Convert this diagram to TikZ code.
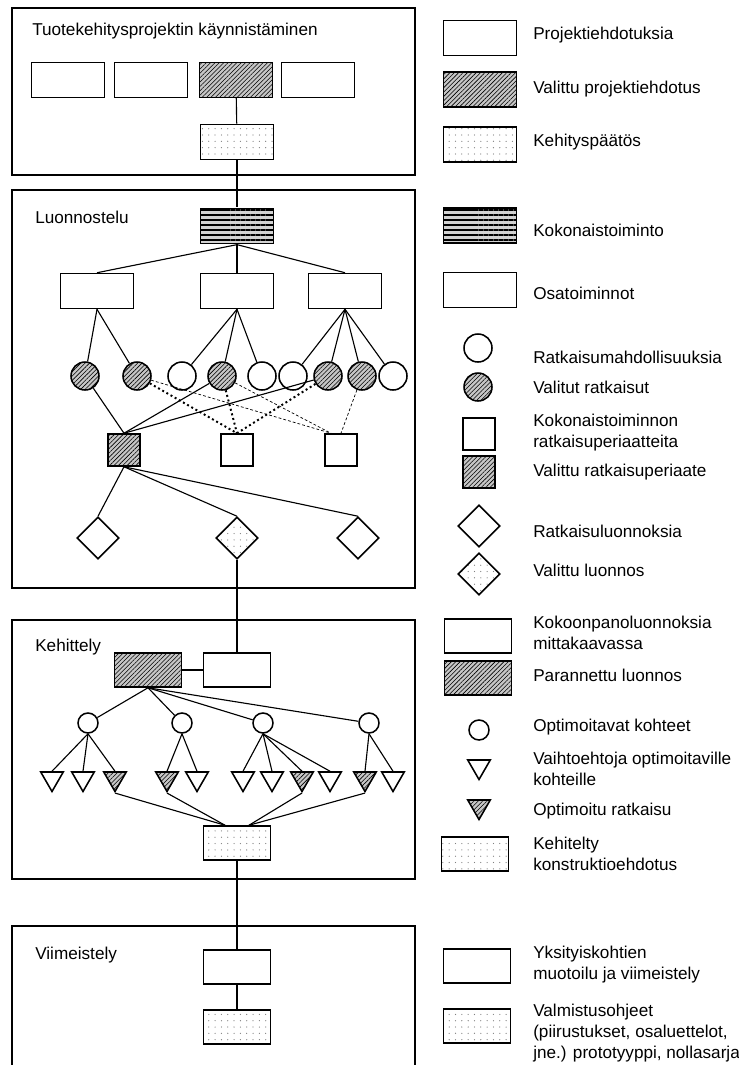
\documentclass[tikz,border=0pt]{standalone}
\usepackage{fontspec}
\setmainfont{Liberation Sans}
\usetikzlibrary{shapes.geometric}
\usetikzlibrary{patterns.meta}

\begin{document}
\begin{tikzpicture}
    [
    x=0.25mm, y=-0.25mm,
    every node/.style={font=\fontsize{12.2pt}{15pt}\selectfont},
    box/.style={rectangle,draw,line width=1.1pt,inner sep=0pt,minimum width=18.25mm,minimum height=8.75mm},
    smallbox/.style={box,minimum width=16.75mm,minimum height=8.5mm},
    sq/.style={box,minimum width=8mm,minimum height=8mm},
    ball/.style={circle,draw,line width=1.1pt,inner sep=0pt,minimum size=7mm},
    smallball/.style={ball,minimum size=5mm},
    gem/.style={diamond,draw,line width=1.1pt,inner sep=0pt,minimum size=10.5mm},
    tri/.style={regular polygon,regular polygon sides=3,shape border rotate=180,draw,line width=1.1pt,inner sep=0pt,minimum size=6.5mm},
    hatchfill/.style={preaction={fill=gray!45},pattern={Lines[angle=45,distance=2.2pt,line width=0.4pt]}},
    stripefill/.style={preaction={fill=gray!35},pattern={Lines[angle=0,distance=3.6pt,line width=1.6pt]}},
    dotfill/.style={pattern={Dots[distance=4.5pt,radius=0.45pt]},pattern color=gray},
    phase/.style={line width=1.1pt},
    title/.style={anchor=west,inner sep=0pt},
    lbl/.style={anchor=west,inner sep=0pt,align=left},
    link/.style={line width=0.8pt},
    pick/.style={line width=1.4pt,dotted},
    alt/.style={line width=0.5pt,dash pattern=on 2pt off 1.5pt},
    ]
    \useasboundingbox (0,0) rectangle (739,1065);

    % phase frames
    \draw [phase] (12,8) rectangle (415,175);
    \draw [phase] (12,190) rectangle (415,588);
    \draw [phase] (12,620) rectangle (415,879);
    \draw [phase] (12,1075) |- (415,926) -- (415,1075);
    \node [title] (h1) at (32,31) {Tuotekehitysprojektin käynnistäminen};
    \node [title] (h2) at (35,217) {Luonnostelu};
    \node [title] (h3) at (35,647) {Kehittely};
    \node [title] (h4) at (35,955) {Viimeistely};

    % project proposals
    \node (p1) at (68,80) [box] {};
    \node (p2) at (151,80) [box] {};
    \node (p3) at (236,80) [box,hatchfill] {};
    \node (p4) at (318,80) [box] {};
    \node (kp) at (237,142) [box,dotfill] {};
    \draw [link] (p3) to (kp);

    % sketching
    \node (kok) at (237,226) [box,stripefill] {};
    \draw [link] (kp) to (kok);
    \node (o1) at (97,291) [box] {};
    \node (o2) at (237,291) [box] {};
    \node (o3) at (345,291) [box] {};
    \draw [link] (kok.south) to (o1.north);
    \draw [link] (kok.south) to (o2.north);
    \draw [link] (kok.south) to (o3.north);

    \node (r1) at (85,376) [ball,hatchfill] {};
    \node (r2) at (137,376) [ball,hatchfill] {};
    \node (r3) at (182,376) [ball] {};
    \node (r4) at (222,376) [ball,hatchfill] {};
    \node (r5) at (262,376) [ball] {};
    \node (r6) at (293,376) [ball] {};
    \node (r7) at (328,376) [ball,hatchfill] {};
    \node (r8) at (362,376) [ball,hatchfill] {};
    \node (r9) at (393,376) [ball] {};
    \draw [link] (o1.south) to (r1);
    \draw [link] (o1.south) to (r2);
    \draw [link] (o2.south) to (r3);
    \draw [link] (o2.south) to (r4);
    \draw [link] (o2.south) to (r5);
    \draw [link] (o3.south) to (r6);
    \draw [link] (o3.south) to (r7);
    \draw [link] (o3.south) to (r8);
    \draw [link] (o3.south) to (r9);

    \node (s1) at (124,450) [sq,hatchfill] {};
    \node (s2) at (237,450) [sq] {};
    \node (s3) at (341,450) [sq] {};
    \draw [link] (r1) to (s1.north);
    \draw [link] (r4) to (s1.north);
    \draw [link] (r7) to (s1.north);
    \draw [pick] (r2) to (s2.north);
    \draw [pick] (r4) to (s2.north);
    \draw [pick] (r7) to (s2.north);
    \draw [alt] (r2) to ([xshift=-2.5mm]s3.north);
    \draw [alt] (r4) to ([xshift=-2.5mm]s3.north);
    \draw [alt] (r8) to (s3.north);

    \node (d1) at (98,538) [gem] {};
    \node (d2) at (237,538) [gem,dotfill] {};
    \node (d3) at (358,538) [gem] {};
    \draw [link] (s1.south) to (d1.north);
    \draw [link] (s1.south) to (d2.north);
    \draw [link] (s1.south) to (d3.north);

    % developing
    \node (pl) at (148,670) [smallbox,hatchfill] {};
    \node (kk) at (237,670) [smallbox] {};
    \draw [link] (d2) to (kk);
    \draw [link] (pl) to (kk);

    \node (c1) at (88,723) [smallball] {};
    \node (c2) at (182,723) [smallball] {};
    \node (c3) at (263,723) [smallball] {};
    \node (c4) at (369,723) [smallball] {};
    \draw [link] (pl.south) to (c1);
    \draw [link] (pl.south) to (c2);
    \draw [link] (pl.south) to (c3);
    \draw [link] (pl.south) to (c4);

    \node (t1) at (52,778.5) [tri] {};
    \node (t2) at (83,778.5) [tri] {};
    \node (t3) at (115,778.5) [tri,hatchfill] {};
    \node (t4) at (167,778.5) [tri,hatchfill] {};
    \node (t5) at (197,778.5) [tri] {};
    \node (t6) at (243,778.5) [tri] {};
    \node (t7) at (272,778.5) [tri] {};
    \node (t8) at (302,778.5) [tri,hatchfill] {};
    \node (t9) at (330,778.5) [tri] {};
    \node (t10) at (365,778.5) [tri,hatchfill] {};
    \node (t11) at (393,778.5) [tri] {};
    \draw [link] (c1.south) to (t1.north);
    \draw [link] (c1.south) to (t2.north);
    \draw [link] (c1.south) to (t3.north);
    \draw [link] (c2.south) to (t4.north);
    \draw [link] (c2.south) to (t5.north);
    \draw [link] (c3.south) to (t6.north);
    \draw [link] (c3.south) to (t7.north);
    \draw [link] (c3.south) to (t8.north);
    \draw [link] (c3.south) to (t9.north);
    \draw [link] (c4.south) to (t10.north);
    \draw [link] (c4.south) to (t11.north);

    \node (kd) at (237,843) [smallbox,dotfill] {};
    \draw [link] (t3.corner 1) to ([xshift=-3mm]kd.north);
    \draw [link] (t4.corner 1) to ([xshift=-3mm]kd.north);
    \draw [link] (t8.corner 1) to ([xshift=3mm]kd.north);
    \draw [link] (t10.corner 1) to ([xshift=3mm]kd.north);

    % finishing
    \node (yk) at (237,967) [smallbox] {};
    \node (vo) at (237,1027) [smallbox,dotfill] {};
    \draw [link] (kd) to (yk);
    \draw [link] (yk) to (vo);

    % legend
    \node (l1) at (480,38) [box] {};
    \node [lbl] (lt1) at (533,35) {Projektiehdotuksia};
    \node (l2) at (480,89.5) [box,hatchfill] {};
    \node [lbl] (lt2) at (533,89) {Valittu projektiehdotus};
    \node (l3) at (480,144.5) [box,dotfill] {};
    \node [lbl] (lt3) at (533,142) {Kehityspäätös};
    \node (l4) at (480,225.5) [box,stripefill] {};
    \node [lbl] (lt4) at (533,230) {Kokonaistoiminto};
    \node (l5) at (480,290) [box] {};
    \node [lbl] (lt5) at (533,293) {Osatoiminnot};
    \node (l6) at (478,348) [ball] {};
    \node [lbl] (lt6) at (533,357) {Ratkaisumahdollisuuksia};
    \node (l7) at (478,387) [ball,hatchfill] {};
    \node [lbl] (lt7) at (533,387) {Valitut ratkaisut};
    \node (l8) at (479,434) [sq] {};
    \node [lbl] (lt8) at (533,433) {Kokonaistoiminnon\\ratkaisuperiaatteita};
    \node (l9) at (479,472) [sq,hatchfill] {};
    \node [lbl] (lt9) at (533,472) {Valittu ratkaisuperiaate};
    \node (l10) at (479,526) [gem] {};
    \node [lbl] (lt10) at (533,531) {Ratkaisuluonnoksia};
    \node (l11) at (479,574) [gem,dotfill] {};
    \node [lbl] (lt11) at (533,570) {Valittu luonnos};
    \node (l12) at (478,636) [smallbox] {};
    \node [lbl] (lt12) at (533,633) {Kokoonpanoluonnoksia\\mittakaavassa};
    \node (l13) at (478,678) [smallbox,hatchfill] {};
    \node [lbl] (lt13) at (533,675) {Parannettu luonnos};
    \node (l14) at (479,730) [smallball] {};
    \node [lbl] (lt14) at (533,727) {Optimoitavat kohteet};
    \node (l15) at (479,766.5) [tri] {};
    \node [lbl] (lt15) at (533,769) {Vaihtoehtoja optimoitaville\\kohteille};
    \node (l16) at (479,806.5) [tri,hatchfill] {};
    \node [lbl] (lt16) at (533,811) {Optimoitu ratkaisu};
    \node (l17) at (475,854) [smallbox,dotfill] {};
    \node [lbl] (lt17) at (533,854) {Kehitelty\\konstruktioehdotus};
    \node (l18) at (477,966) [smallbox] {};
    \node [lbl] (lt18) at (533,965) {Yksityiskohtien\\muotoilu ja viimeistely};
    \node (l19) at (477,1026) [smallbox,dotfill] {};
    \node [lbl] (lt19) at (533,1033) {Valmistusohjeet\\(piirustukset, osaluettelot,\\jne.) prototyyppi, nollasarja};
\end{tikzpicture}
\end{document}
